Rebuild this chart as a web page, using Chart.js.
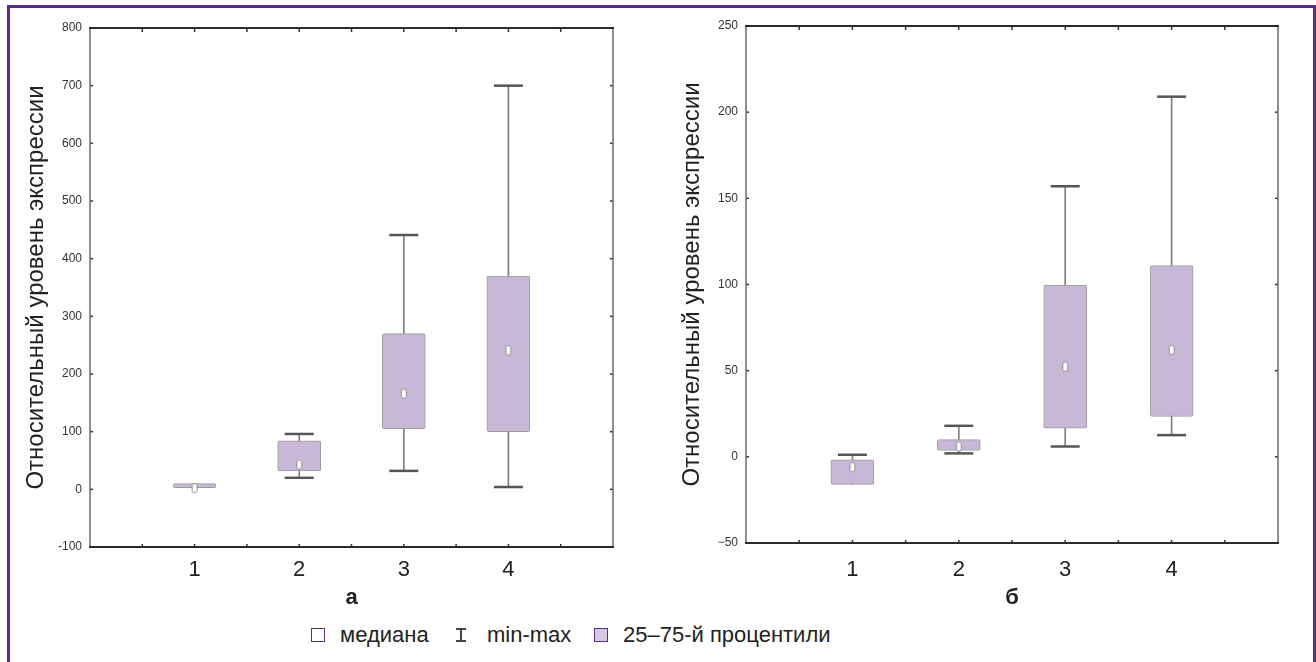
<!DOCTYPE html>
<html lang="ru">
<head>
<meta charset="UTF-8">
<title>Относительный уровень экспрессии</title>
<script src="https://cdn.jsdelivr.net/npm/chart.js@4.4.1/dist/chart.umd.min.js"></script>
<style>
  *, *::before, *::after { box-sizing: border-box; margin: 0; padding: 0; }
  body {
    width: 1316px; height: 662px; position: relative; overflow: hidden;
    background: #fff; color: #222;
    font-family: 'Liberation Sans', Arial, sans-serif;
  }
  .frame {
    position: absolute; left: 7px; top: 5px; width: 1309px; height: 700px;
    border: 3px solid #5b2c8f; border-bottom: none;
  }
  canvas { position: absolute; top: 0; }
  #chart-a { left: 0; }
  #chart-b { left: 656px; }
  .lg-box { position: absolute; top: 628px; width: 14px; height: 14px; border: 1.5px solid #5b2c8f; }
  #lg-median { left: 311px; background: #fff; }
  #lg-range { left: 594px; background: #d3c9e3; }
  .lg-ibeam {
    position: absolute; left: 456px; top: 628px; width: 10px; height: 14px;
    border-top: 2px solid #444; border-bottom: 2px solid #444;
  }
  .lg-ibeam::after {
    content: ''; position: absolute; left: 4px; top: 0; width: 1.5px; height: 10px; background: #444;
  }
  .lg-text { position: absolute; top: 623px; font-size: 22px; line-height: 24px; white-space: nowrap; }
</style>
</head>
<body>
  <div class="frame"></div>
  <canvas id="chart-a" width="630" height="614"></canvas>
  <canvas id="chart-b" width="660" height="614"></canvas>

  <div class="lg-box" id="lg-median"></div>
  <span class="lg-text" style="left:340px">медиана</span>
  <div class="lg-ibeam"></div>
  <span class="lg-text" style="left:487px">min-max</span>
  <div class="lg-box" id="lg-range"></div>
  <span class="lg-text" style="left:623px">25–75-й процентили</span>

<script>
// groups on the x axis
const categories = ['1', '2', '3', '4'];
const yTitle = 'Относительный уровень экспрессии';

// panel а
const minA    = [3, 20, 32, 4];
const q1A     = [3, 32, 105, 100];
const medianA = [2, 43, 166, 241];
const q3A     = [10, 84, 270, 370];
const maxA    = [10, 96, 441, 700];
const yTicksA = ['-100', '0', '100', '200', '300', '400', '500', '600', '700', '800'];

// panel б
const minB    = [-16, 2, 6, 12.6];
const q1B     = [-16, 3.7, 16.6, 23.4];
const medianB = [-6, 6, 52.3, 62];
const q3B     = [-1.7, 10, 99.7, 111];
const maxB    = [1.2, 18, 157, 209];
const yTicksB = ['−50', '0', '50', '100', '150', '200', '250'];

Chart.defaults.font.family = "'Liberation Sans', Arial, sans-serif";
Chart.defaults.color = '#222';

function medianMarker() {
  const c = document.createElement('canvas');
  c.width = 8; c.height = 12;
  const g = c.getContext('2d');
  g.fillStyle = '#fff'; g.strokeStyle = '#8a8a8a'; g.lineWidth = 1;
  g.beginPath(); g.roundRect(1.5, 1.5, 5, 9, 2); g.fill(); g.stroke();
  return c;
}

// axis frame + small inward ticks, drawn from the scales
const framePlugin = {
  id: 'frame',
  afterDraw(chart) {
    const { ctx, chartArea: a, scales: { x, y } } = chart;
    const line = (x1, y1, x2, y2) => { ctx.beginPath(); ctx.moveTo(x1, y1); ctx.lineTo(x2, y2); ctx.stroke(); };
    ctx.save();
    ctx.strokeStyle = '#333'; ctx.lineWidth = 1.5;
    x.ticks.forEach(t => {
      const px = x.getPixelForValue(t.value);
      if (px <= a.left + 1 || px >= a.right - 1) return;
      line(px, a.top, px, a.top + 4);
      line(px, a.bottom, px, a.bottom - 3);
    });
    y.ticks.forEach(t => {
      const py = y.getPixelForValue(t.value);
      line(a.left, py, a.left + 3, py);
      line(a.right, py, a.right - 3, py);
    });
    ctx.strokeStyle = '#6a6a6a'; ctx.lineWidth = 1.5;
    line(a.left, a.top, a.left, a.bottom);
    line(a.right, a.top, a.right, a.bottom);
    ctx.strokeStyle = '#2b2b2b'; ctx.lineWidth = 2;
    line(a.left - 1, a.top, a.right + 1, a.top);
    line(a.left - 1, a.bottom, a.right + 1, a.bottom);
    ctx.restore();
  }
};

function boxChart(id, s) {
  const pts = arr => arr.map((v, i) => ({ x: i + 1, y: v }));
  const caps = [
    ...s.min.map((v, i) => ({ x: i + 1, y: v })).filter((p, i) => s.min[i] !== s.q1[i]),
    ...s.max.map((v, i) => ({ x: i + 1, y: v })).filter((p, i) => s.max[i] !== s.q3[i]),
  ];
  return new Chart(document.getElementById(id), {
    type: 'bar',
    data: {
      datasets: [
        {
          type: 'scatter', label: 'медиана', data: pts(s.median), order: 0,
          pointStyle: medianMarker(), pointRadius: 5,
        },
        {
          type: 'scatter', label: 'min-max caps', data: caps, order: 1,
          pointStyle: 'line', pointRadius: 14.5, borderColor: '#555', borderWidth: 2.5,
        },
        {
          label: '25–75-й процентили', order: 2, grouped: false,
          data: s.q1.map((v, i) => ({ x: i + 1, y: [v, s.q3[i]] })),
          backgroundColor: '#c8b8d8', borderColor: '#9b9b9b', borderWidth: 1,
          borderSkipped: false, borderRadius: 2, barThickness: 43, maxBarThickness: 43,
        },
        {
          label: 'min-max', order: 3, grouped: false,
          data: s.min.map((v, i) => ({ x: i + 1, y: [v, s.max[i]] })),
          backgroundColor: '#808080', borderWidth: 0, barThickness: 1, maxBarThickness: 1,
        },
      ],
    },
    options: {
      responsive: false, animation: false,
      layout: { padding: s.padding },
      plugins: { legend: { display: false }, tooltip: { enabled: false } },
      scales: {
        x: {
          type: 'linear', min: 0, max: 5, offset: false,
          grid: { display: false, drawTicks: false }, border: { display: false },
          afterFit: sc => { sc.height = s.xHeight; },
          ticks: {
            stepSize: 0.5, autoSkip: false, maxRotation: 0, padding: s.xTickPad,
            font: { size: 22 }, color: '#222',
            callback: v => (Number.isInteger(v) && v >= 1 && v <= categories.length) ? categories[v - 1] : '',
          },
          title: {
            display: true, text: s.label, color: '#222',
            font: { size: 22, weight: 'bold' }, padding: { top: 0, bottom: 3 },
          },
        },
        y: {
          min: s.yMin, max: s.yMax, offset: false,
          grid: { display: false, drawTicks: false }, border: { display: false },
          afterFit: sc => { sc.width = 90; },
          ticks: {
            stepSize: s.yStep, padding: 8, font: { size: 12 }, color: '#333',
            callback: (v, i) => s.yTicks[i],
          },
          title: {
            display: true, text: yTitle, color: '#222',
            font: { size: 24 }, padding: { top: 22, bottom: 0 },
          },
        },
      },
    },
    plugins: [framePlugin],
  });
}

boxChart('chart-a', {
  min: minA, q1: q1A, median: medianA, q3: q3A, max: maxA,
  yMin: -100, yMax: 800, yStep: 100, yTicks: yTicksA, label: 'а',
  padding: { top: 28, right: 13, bottom: 0, left: 0 }, xHeight: 67, xTickPad: 10,
});
boxChart('chart-b', {
  min: minB, q1: q1B, median: medianB, q3: q3B, max: maxB,
  yMin: -50, yMax: 250, yStep: 50, yTicks: yTicksB, label: 'б',
  padding: { top: 26, right: 38, bottom: 0, left: 0 }, xHeight: 71, xTickPad: 14,
});
</script>
</body>
</html>
